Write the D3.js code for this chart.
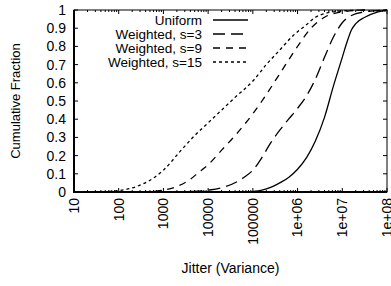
<!DOCTYPE html>
<html>
<head>
<meta charset="utf-8">
<script src="https://cdn.jsdelivr.net/npm/d3@7"></script>
<style>
body{margin:0;background:#fff;}
text{font-family:"Liberation Sans",Arial,sans-serif;fill:#000;}
</style>
</head>
<body>
<svg id="canvas" width="391" height="286"></svg>
<script>
// jitter values (variance) and cumulative fraction for each run
let uniformX=[1e5,1.6e5,2.5e5,4e5,6.3e5,1e6,1.6e6,2.5e6,4e6,6.3e6,1e7,1.26e7,1.6e7,2e7,3.2e7,6.3e7,1e8];
let uniformY=[0.003,0.01,0.025,0.05,0.08,0.125,0.19,0.28,0.41,0.58,0.74,0.82,0.89,0.925,0.96,0.99,1.0];

let s3X=[1.6e3,4e3,1e4,2.5e4,6.3e4,1e5,1.6e5,2.5e5,4e5,6.3e5,1e6,1.6e6,2.5e6,4e6,6.3e6,1e7,1.6e7,3.2e7,1e8];
let s3Y=[0,0.003,0.01,0.03,0.08,0.12,0.19,0.27,0.34,0.40,0.46,0.53,0.62,0.74,0.85,0.93,0.97,0.99,1.0];

let s9X=[320,1e3,2e3,4e3,6.3e3,1e4,2e4,4e4,1e5,1.6e5,4e5,1e6,2e6,4e6,1e7,3.2e7];
let s9Y=[0,0.01,0.03,0.07,0.11,0.15,0.23,0.31,0.43,0.50,0.65,0.80,0.90,0.96,0.99,1.0];

let s15X=[32,63,100,250,630,1e3,2.5e3,5e3,1e4,2e4,4e4,1e5,2e5,4e5,8e5,1.6e6,2.5e6,4e6,1e7,3.2e7];
let s15Y=[0,0.003,0.008,0.03,0.08,0.12,0.23,0.31,0.38,0.45,0.52,0.61,0.70,0.78,0.86,0.92,0.96,0.98,0.995,1.0];

let seriesNames=["Uniform","Weighted, s=3","Weighted, s=9","Weighted, s=15"];
let xTickValues=[10,100,1000,10000,100000,1e6,1e7,1e8];
let xTickLabels=["10","100","1000","10000","100000","1e+06","1e+07","1e+08"];
let yTickValues=[0,0.1,0.2,0.3,0.4,0.5,0.6,0.7,0.8,0.9,1];

let svg=d3.select("#canvas");
let pLeft=74,pRight=387,pTop=10,pBottom=192;

let xScale=d3.scaleLog().domain([10,1e8]).range([pLeft,pRight]);
let yScale=d3.scaleLinear().domain([0,1]).range([pBottom,pTop]);

let dashes=[null,"12,6","7,6","3,3"];
let allSeries=[[uniformX,uniformY],[s3X,s3Y],[s9X,s9Y],[s15X,s15Y]];

// minor ticks on the log axis
let minor=[];
xTickValues.slice(0,-1).forEach(d=>{
    for(let k=2;k<10;k++) minor.push(d*k);
});

let g=svg.append("g");
g.selectAll(".mb").data(minor).enter().append("line")
 .attr("x1",d=>xScale(d)).attr("x2",d=>xScale(d))
 .attr("y1",pBottom).attr("y2",pBottom-2).attr("stroke","#000");
g.selectAll(".mt").data(minor).enter().append("line")
 .attr("x1",d=>xScale(d)).attr("x2",d=>xScale(d))
 .attr("y1",pTop).attr("y2",pTop+2).attr("stroke","#000");
g.selectAll(".xb").data(xTickValues).enter().append("line")
 .attr("x1",d=>xScale(d)).attr("x2",d=>xScale(d))
 .attr("y1",pBottom).attr("y2",pBottom-4).attr("stroke","#000");
g.selectAll(".xt").data(xTickValues).enter().append("line")
 .attr("x1",d=>xScale(d)).attr("x2",d=>xScale(d))
 .attr("y1",pTop).attr("y2",pTop+4).attr("stroke","#000");
g.selectAll(".yl").data(yTickValues).enter().append("line")
 .attr("x1",pLeft).attr("x2",pLeft+4)
 .attr("y1",d=>yScale(d)).attr("y2",d=>yScale(d)).attr("stroke","#000");
g.selectAll(".yr").data(yTickValues).enter().append("line")
 .attr("x1",pRight).attr("x2",pRight-4)
 .attr("y1",d=>yScale(d)).attr("y2",d=>yScale(d)).attr("stroke","#000");

// tick labels
g.selectAll(".ylab").data(yTickValues).enter().append("text")
 .attr("x",pLeft-8).attr("y",d=>yScale(d)).attr("dy","0.35em")
 .attr("text-anchor","end").style("font-size","14px")
 .text(d=>d3.format("~g")(d));
g.selectAll(".xlab").data(xTickValues).enter().append("text")
 .attr("transform",d=>"translate("+xScale(d)+","+(pBottom+6)+") rotate(-90)")
 .attr("dy","0.35em").attr("text-anchor","end").style("font-size","14px")
 .text((d,i)=>xTickLabels[i]);

// curves
let line=d3.line().x(d=>xScale(d[0])).y(d=>yScale(d[1])).curve(d3.curveMonotoneX);
allSeries.forEach((s,i)=>{
    let pts=s[0].map((x,j)=>[x,s[1][j]]);
    svg.append("path").attr("d",line(pts))
     .attr("fill","none").attr("stroke","#000").attr("stroke-width",1.3)
     .attr("stroke-dasharray",dashes[i]);
});

// frame
svg.append("rect").attr("x",pLeft).attr("y",pTop)
 .attr("width",pRight-pLeft).attr("height",pBottom-pTop)
 .attr("fill","none").attr("stroke","#000").attr("stroke-width",1);
svg.append("path").attr("d","M"+pLeft+","+pTop+"V"+pBottom+"H"+pRight)
 .attr("fill","none").attr("stroke","#000").attr("stroke-width",2);

// legend
let legend=svg.selectAll(".leg").data(seriesNames).enter().append("g")
 .attr("transform",(d,i)=>"translate(0,"+(20+i*14)+")");
legend.append("text").attr("x",202).attr("dy","0.35em")
 .attr("text-anchor","end").style("font-size","13.5px").text(d=>d);
legend.append("line").attr("x1",213).attr("x2",248)
 .attr("stroke","#000").attr("stroke-width",1.3)
 .attr("stroke-dasharray",(d,i)=>dashes[i]);

// axis titles
svg.append("text").attr("transform","translate(15,"+((pTop+pBottom)/2)+") rotate(-90)")
 .attr("dy","0.35em").attr("text-anchor","middle").style("font-size","13px")
 .text("Cumulative Fraction");
svg.append("text").attr("x",(pLeft+pRight)/2).attr("y",273)
 .attr("text-anchor","middle").style("font-size","14px")
 .text("Jitter (Variance)");
</script>
</body>
</html>
